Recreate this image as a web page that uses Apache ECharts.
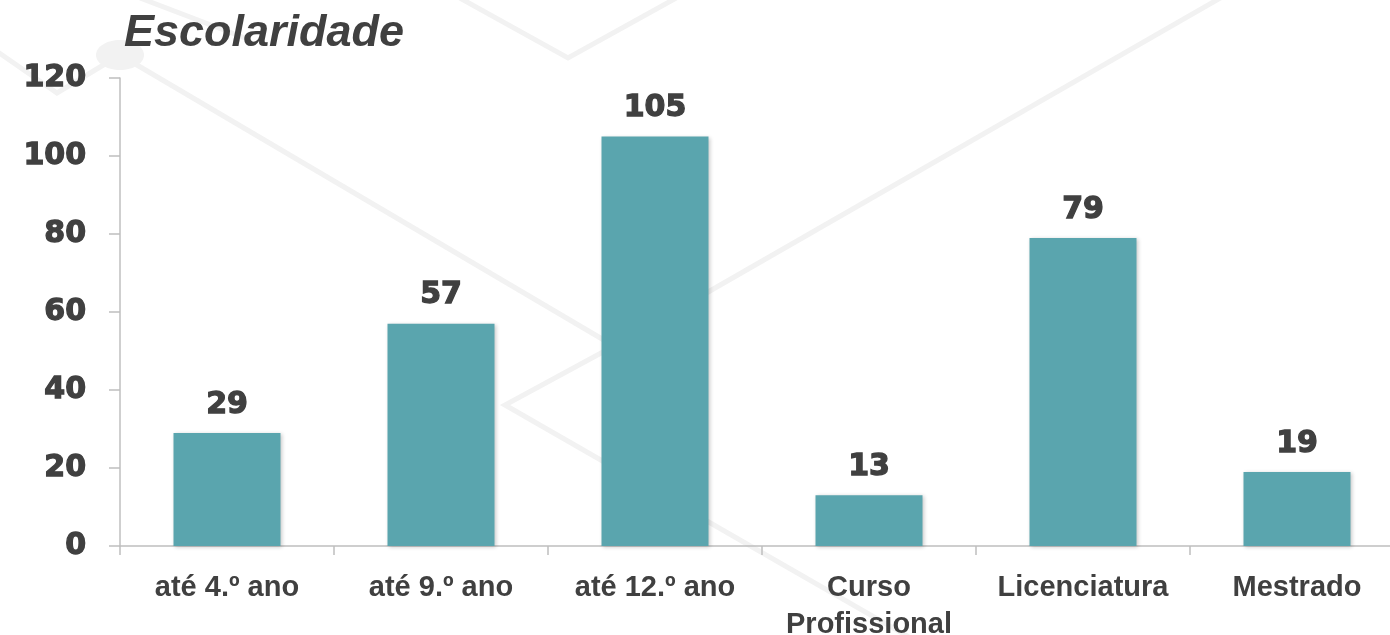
<!DOCTYPE html>
<html>
<head>
<meta charset="utf-8">
<script src="https://cdn.jsdelivr.net/npm/echarts@6/dist/echarts.min.js"></script>
<style>
html,body{margin:0;padding:0;background:#fff;}
#chart{width:1390px;height:635px;}
</style>
</head>
<body>
<div id="chart"></div>
<script>
const titleText = 'Escolaridade';
const categories = ['até 4.º ano', 'até 9.º ano', 'até 12.º ano', 'Curso\nProfissional', 'Licenciatura', 'Mestrado'];
const values = [29, 57, 105, 13, 79, 19];
const yTicks = { min: 0, max: 120, interval: 20 };

const textColor = '#404040';
const deco = '#F2F2F2';

const chart = echarts.init(document.getElementById('chart'), null, { renderer: 'canvas' });

function line(points) {
  return {
    type: 'polyline', z: -10, silent: true,
    shape: { points: points },
    style: { stroke: deco, lineWidth: 5, fill: null }
  };
}

const heavy = {
  fontFamily: 'DejaVu Sans, sans-serif',
  fontWeight: 'bold', fontSize: 30, color: textColor,
  textBorderColor: textColor, textBorderWidth: 1.3
};

chart.setOption({
  backgroundColor: '#ffffff',
  animation: false,
  title: {
    text: titleText,
    left: 119, top: 6,
    textStyle: {
      fontFamily: 'Liberation Sans, Arial, sans-serif',
      fontStyle: 'italic', fontWeight: 'bold', fontSize: 45, color: textColor
    }
  },
  graphic: [
    line([[-5, 50], [57, 93], [120, 55]]),
    line([[140, -2], [245, 38]]),
    line([[120, 55], [614, 346], [1222, -3]]),
    line([[614, 346], [505, 405], [935, 652]]),
    line([[458, -3], [568, 58], [678, -3]]),
    {
      type: 'ellipse', z: -9, silent: true,
      shape: { cx: 120, cy: 55, rx: 24, ry: 15 },
      style: { fill: deco }
    }
  ],
  grid: { left: 120, width: 1284, top: 78, height: 468, containLabel: false, outerBoundsMode: 'none' },
  xAxis: {
    type: 'category',
    data: categories,
    boundaryGap: true,
    axisLine: { show: true, lineStyle: { color: '#BFBFBF', width: 1.5 } },
    axisTick: { show: true, length: 9, lineStyle: { color: '#BFBFBF', width: 1.5 } },
    axisLabel: {
      margin: 23, interval: 0,
      fontFamily: 'Liberation Sans, Arial, sans-serif',
      fontWeight: 'bold', fontSize: 29, color: textColor, lineHeight: 37
    },
    splitLine: { show: false }
  },
  yAxis: {
    type: 'value',
    min: yTicks.min, max: yTicks.max, interval: yTicks.interval,
    axisLine: { show: true, lineStyle: { color: '#BFBFBF', width: 1.5 } },
    axisTick: { show: true, length: 11, lineStyle: { color: '#BFBFBF', width: 1.5 } },
    axisLabel: Object.assign({ margin: 34 }, heavy),
    splitLine: { show: false }
  },
  series: [{
    type: 'bar',
    data: values,
    barWidth: '50%',
    z: 2,
    itemStyle: {
      color: '#5AA5AE',
      shadowColor: 'rgba(0,0,0,0.22)', shadowBlur: 4, shadowOffsetX: 1, shadowOffsetY: 1
    },
    label: Object.assign({ show: true, position: 'top', distance: 13 }, heavy)
  }]
});
</script>
</body>
</html>
